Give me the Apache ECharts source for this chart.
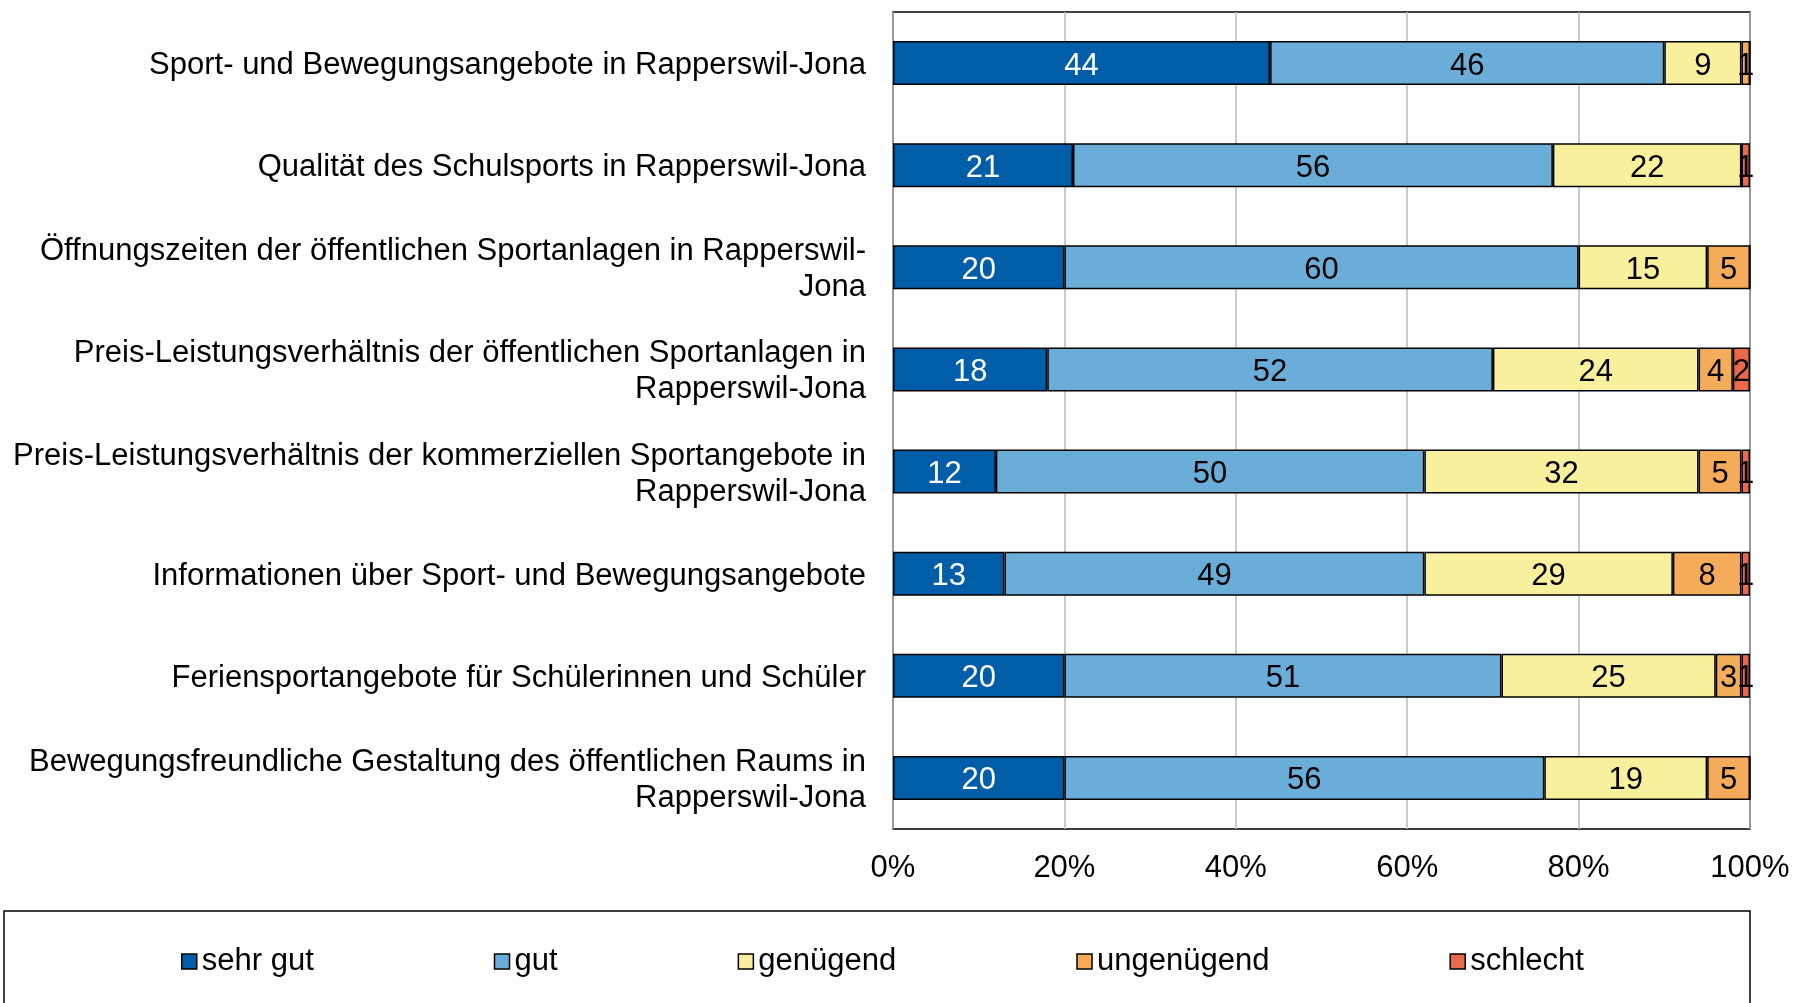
<!DOCTYPE html>
<html>
<head>
<meta charset="utf-8">
<script src="https://cdn.jsdelivr.net/npm/echarts@6/dist/echarts.min.js"></script>
<style>
  html, body { margin: 0; padding: 0; background: #fff; }
  #chart { width: 1794px; height: 1003px; }
</style>
</head>
<body>
<div id="chart"></div>
<script>
const categories = [
  'Sport- und Bewegungsangebote in Rapperswil-Jona',
  'Qualität des Schulsports in Rapperswil-Jona',
  'Öffnungszeiten der öffentlichen Sportanlagen in Rapperswil-\nJona',
  'Preis-Leistungsverhältnis der öffentlichen Sportanlagen in\nRapperswil-Jona',
  'Preis-Leistungsverhältnis der kommerziellen Sportangebote in\nRapperswil-Jona',
  'Informationen über Sport- und Bewegungsangebote',
  'Feriensportangebote für Schülerinnen und Schüler',
  'Bewegungsfreundliche Gestaltung des öffentlichen Raums in\nRapperswil-Jona'
]

const sehrGut = [44, 21, 20, 18, 12, 13, 20, 20]
const gut = [46, 56, 60, 52, 50, 49, 51, 56]
const genuegend = [9, 22, 15, 24, 32, 29, 25, 19]
const ungenuegend = [1, 0, 5, 4, 5, 8, 3, 5]
const schlecht = [0, 1, 0, 2, 1, 1, 1, 0]

const xTicks = [0, 20, 40, 60, 80, 100]

const font = "'Liberation Sans', Arial, sans-serif"

const seriesDefs = [
  { name: 'sehr gut', data: sehrGut, color: '#005EA8', text: '#fff' },
  { name: 'gut', data: gut, color: '#6AADD8', text: '#000' },
  { name: 'genügend', data: genuegend, color: '#F8F09D', text: '#000' },
  { name: 'ungenügend', data: ungenuegend, color: '#F5AC5A', text: '#000' },
  { name: 'schlecht', data: schlecht, color: '#E9694A', text: '#000' }
]

const chart = echarts.init(document.getElementById('chart'))

chart.setOption({
  animation: false,
  backgroundColor: '#fff',
  textStyle: { fontFamily: font },
  grid: {
    left: 893, top: 12, width: 857, height: 817,
    outerBoundsMode: 'none',
    containLabel: false,
    show: true, borderColor: '#000', borderWidth: 1.5
  },
  legend: {
    left: 176, top: 941,
    icon: 'rect',
    itemWidth: 15, itemHeight: 15, itemGap: 180,
    itemStyle: { borderColor: '#000', borderWidth: 1.5 },
    textStyle: { fontSize: 31, color: '#000', fontFamily: font },
    data: seriesDefs.map(s => s.name)
  },
  graphic: [{
    type: 'rect',
    shape: { x: 4, y: 911, width: 1746, height: 200 },
    style: { fill: 'none', stroke: '#000', lineWidth: 1.5 }
  }],
  xAxis: {
    type: 'value',
    min: xTicks[0], max: xTicks[xTicks.length - 1], interval: 20,
    axisLine: { show: false },
    axisTick: { show: false },
    splitLine: { lineStyle: { color: '#b8b8b8', width: 1.5 } },
    axisLabel: {
      formatter: '{value}%', fontSize: 31, color: '#000', margin: 24,
      fontFamily: font
    }
  },
  yAxis: {
    type: 'category',
    inverse: true,
    data: categories,
    axisLine: { show: false },
    axisTick: { show: false },
    axisLabel: {
      margin: 27,
      formatter: v => v.split('\n').map(l => '{a|' + l + '}').join('\n'),
      rich: {
        a: {
          fontSize: 31, color: '#000', lineHeight: 36,
          padding: [5, 0, 0, 0], fontFamily: font
        }
      }
    }
  },
  series: seriesDefs.map(s => ({
    name: s.name,
    type: 'bar',
    stack: 'total',
    barWidth: 44,
    data: s.data,
    itemStyle: { color: s.color, borderColor: '#000', borderWidth: 1.5 },
    label: {
      show: true,
      position: 'inside',
      fontSize: 31,
      color: s.text,
      offset: [0, 3],
      fontFamily: font,
      formatter: p => (p.value > 0 ? String(p.value) : '')
    }
  }))
})
</script>
</body>
</html>
